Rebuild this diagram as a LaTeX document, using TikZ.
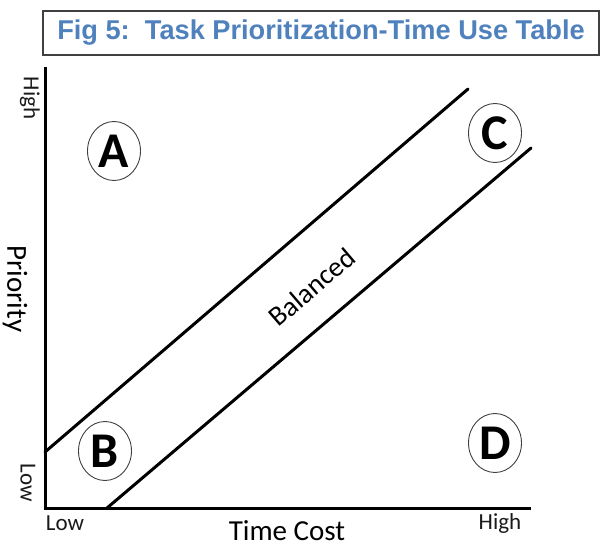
\documentclass[tikz,border=0pt]{standalone}
\usepackage{fontspec}
\setmainfont{Carlito}
\newfontfamily\titlefont{Liberation Sans}
\usetikzlibrary{shapes.geometric}
\definecolor{titleblue}{HTML}{4F81BD}
\definecolor{framegray}{HTML}{404040}
\definecolor{textdark}{HTML}{1A1A1A}
\tikzset{
  axisline/.style={line width=3pt, black},
  bandline/.style={line width=3pt, black, line cap=round},
  quad/.style={ellipse, draw=framegray, line width=0.9pt, minimum width=53pt, minimum height=59pt, inner sep=0pt, font=\bfseries\fontsize{50}{50}\selectfont},
  ticklabel/.style={text=textdark, font=\fontsize{23}{23}\selectfont, inner sep=0pt},
  axislabel/.style={text=black, font=\fontsize{29}{29}\selectfont, inner sep=0pt},
}
\begin{document}
\begin{tikzpicture}[x=1pt,y=-1pt]
\useasboundingbox (0,0) rectangle (600,546);
% title
\node[draw=framegray, line width=1.5pt, minimum width=556pt, minimum height=44pt, inner sep=0pt,
      text=titleblue, font=\titlefont\bfseries\fontsize{27.2}{27.2}\selectfont] (title) at (321,33) {Fig 5:\ \ Task Prioritization-Time Use Table};
% axes
\coordinate (origin) at (45,508);
\coordinate (ytop) at (45,67);
\coordinate (xend) at (531,508);
\draw[axisline] (ytop) -- (origin) -- (xend);
% band lines
\coordinate (u1) at (45,452);
\coordinate (u2) at (468,89);
\coordinate (l1) at (107,508);
\coordinate (l2) at (531,148);
\draw[bandline] (u1) -- (u2);
\draw[bandline] (l1) -- (l2);
% quadrant labels
\node[quad] (A) at (114,151) {A};
\node[quad] (B) at (105,451) {B};
\node[quad] (C) at (495,133) {C};
\node[quad] (D) at (495,443) {D};
% balanced
\node[font=\fontsize{28}{28}\selectfont, rotate=40.5, inner sep=0pt] (bal) at (312,287) {Balanced};
% axis tick labels
\node[ticklabel, rotate=-90] (yhigh) at (30,98) {High};
\node[ticklabel, rotate=-90] (ylow) at (28,483) {Low};
\node[ticklabel] (xlow) at (65,523) {Low};
\node[ticklabel] (xhigh) at (500,523) {High};
% axis titles
\node[axislabel, rotate=-90] (ytitle) at (15,289) {Priority};
\node[axislabel] (xtitle) at (287,531) {Time Cost};
\end{tikzpicture}
\end{document}
